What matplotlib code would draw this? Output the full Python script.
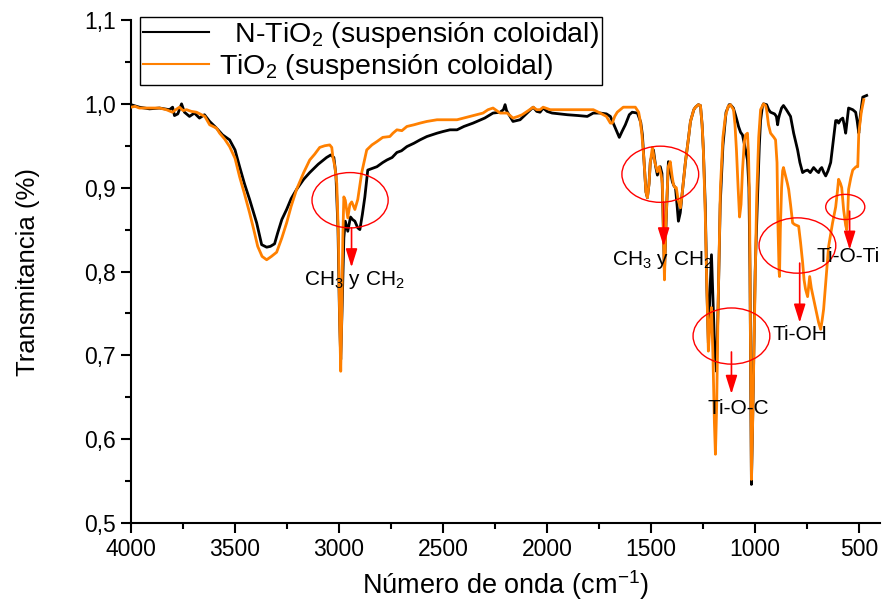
import matplotlib
matplotlib.use("Agg")
import matplotlib.pyplot as plt
from matplotlib.patches import Ellipse

plt.rcParams['font.family'] = ['Liberation Sans', 'DejaVu Sans']
plt.rcParams['mathtext.fontset'] = 'custom'
plt.rcParams['mathtext.rm'] = 'Liberation Sans'
plt.rcParams['mathtext.it'] = 'Liberation Sans:italic'
plt.rcParams['mathtext.bf'] = 'Liberation Sans:bold'

# ---------------- data ----------------
ntio2_wn = [4000, 3960, 3911, 3863, 3815, 3800, 3791, 3775, 3757, 3743, 3719, 3695, 3671, 3647, 3622,
            3589, 3560, 3526, 3500, 3478, 3455, 3430, 3396, 3372, 3348, 3330, 3310, 3295, 3275, 3252,
            3230, 3204, 3170, 3141, 3100, 3060, 3040, 3025, 3015, 3005, 2998, 2992, 2985, 2977, 2970,
            2958, 2945, 2935, 2924, 2910, 2900, 2888, 2876, 2862, 2818, 2790, 2770, 2745, 2722, 2700,
            2674, 2640, 2611, 2578, 2529, 2500, 2467, 2433, 2400, 2356, 2300, 2260, 2226, 2210, 2202,
            2195, 2188, 2164, 2130, 2096, 2067, 2050, 2034, 2019, 2000, 1976, 1903, 1850, 1807, 1778,
            1745, 1715, 1696, 1672, 1653, 1640, 1624, 1605, 1591, 1566, 1550, 1542, 1535, 1525, 1518,
            1510, 1504, 1489, 1478, 1470, 1456, 1448, 1442, 1436, 1428, 1417, 1398, 1390, 1383, 1375,
            1369, 1360, 1350, 1335, 1320, 1311, 1295, 1287, 1273, 1263, 1255, 1249, 1240, 1232, 1225,
            1218, 1210, 1203, 1195, 1186, 1178, 1168, 1155, 1140, 1125, 1119, 1105, 1095, 1085, 1080,
            1070, 1061, 1046, 1037, 1030, 1025, 1018, 1010, 1000, 989, 980, 974, 965, 960, 945,
            935, 926, 907, 898, 892, 888, 883, 873, 864, 850, 830, 815, 796, 785, 772,
            760, 748, 735, 719, 705, 695, 688, 680, 670, 661, 650, 637, 625, 613, 605,
            599, 590, 579, 572, 565, 558, 551, 531, 517, 510, 502, 495, 483, 464]
ntio2_t = [0.999, 0.996, 0.994, 0.995, 0.993, 0.996, 0.986, 0.988, 1.000, 0.990, 0.985, 0.989, 0.983, 0.987, 0.979,
           0.971, 0.963, 0.957, 0.945, 0.925, 0.905, 0.886, 0.858, 0.832, 0.829, 0.830, 0.833, 0.846, 0.862, 0.874,
           0.887, 0.898, 0.910, 0.918, 0.928, 0.936, 0.939, 0.936, 0.915, 0.850, 0.750, 0.695, 0.760, 0.840, 0.860,
           0.848, 0.865, 0.862, 0.860, 0.852, 0.850, 0.868, 0.889, 0.921, 0.925, 0.930, 0.933, 0.936, 0.942, 0.944,
           0.949, 0.953, 0.957, 0.961, 0.965, 0.967, 0.969, 0.969, 0.973, 0.977, 0.983, 0.989, 0.990, 0.993, 0.999,
           0.992, 0.989, 0.979, 0.981, 0.989, 0.996, 0.991, 0.990, 0.995, 0.991, 0.989, 0.987, 0.986, 0.985, 0.989,
           0.989, 0.988, 0.985, 0.971, 0.960, 0.967, 0.975, 0.987, 0.990, 0.989, 0.978, 0.963, 0.935, 0.895, 0.888,
           0.905, 0.931, 0.945, 0.925, 0.915, 0.925, 0.917, 0.860, 0.800, 0.860, 0.931, 0.907, 0.902, 0.900, 0.878,
           0.860, 0.870, 0.895, 0.931, 0.960, 0.979, 0.993, 0.996, 0.999, 0.998, 0.975, 0.945, 0.880, 0.780, 0.715,
           0.770, 0.820, 0.770, 0.710, 0.681, 0.760, 0.880, 0.950, 0.990, 0.999, 0.999, 0.995, 0.987, 0.978, 0.973,
           0.966, 0.963, 0.945, 0.933, 0.900, 0.800, 0.546, 0.650, 0.800, 0.886, 0.950, 0.980, 0.997, 1.000, 0.999,
           0.993, 0.990, 0.988, 0.985, 0.975, 0.982, 0.987, 0.995, 0.998, 0.993, 0.985, 0.965, 0.945, 0.930, 0.918,
           0.920, 0.921, 0.918, 0.924, 0.920, 0.918, 0.922, 0.924, 0.918, 0.914, 0.920, 0.930, 0.955, 0.980, 0.980,
           0.977, 0.981, 0.983, 0.975, 0.965, 0.980, 0.995, 0.993, 0.990, 0.980, 0.965, 0.985, 1.008, 1.010]

tio2_wn = [4000, 3980, 3960, 3911, 3863, 3830, 3801, 3785, 3767, 3750, 3733, 3710, 3685, 3661, 3645,
           3622, 3589, 3574, 3550, 3526, 3500, 3478, 3455, 3430, 3410, 3391, 3370, 3348, 3325, 3300,
           3275, 3252, 3230, 3204, 3170, 3141, 3117, 3093, 3069, 3045, 3035, 3030, 3020, 3011, 3003,
           2997, 2992, 2987, 2982, 2977, 2970, 2958, 2948, 2939, 2924, 2910, 2891, 2867, 2842, 2818,
           2790, 2756, 2741, 2722, 2698, 2674, 2640, 2611, 2578, 2529, 2433, 2371, 2308, 2284, 2260,
           2226, 2192, 2164, 2140, 2120, 2090, 2067, 2050, 2034, 2019, 1985, 1903, 1850, 1778, 1745,
           1715, 1696, 1687, 1675, 1663, 1634, 1600, 1576, 1560, 1552, 1545, 1535, 1525, 1518, 1510,
           1504, 1494, 1482, 1470, 1461, 1452, 1446, 1441, 1436, 1430, 1418, 1408, 1400, 1393, 1385,
           1379, 1370, 1359, 1350, 1335, 1320, 1311, 1295, 1287, 1273, 1263, 1255, 1249, 1240, 1234,
           1225, 1218, 1210, 1203, 1196, 1191, 1185, 1178, 1167, 1155, 1143, 1130, 1119, 1104, 1097,
           1090, 1082, 1075, 1068, 1061, 1052, 1046, 1037, 1032, 1027, 1022, 1018, 1012, 1000, 993,
           983, 974, 960, 950, 945, 936, 926, 910, 902, 895, 890, 885, 883, 879, 873,
           868, 864, 855, 845, 839, 830, 820, 810, 800, 791, 782, 772, 765, 758, 748,
           742, 738, 730, 719, 705, 695, 685, 678, 671, 660, 647, 628, 613, 605, 599,
           590, 584, 575, 565, 560, 555, 551, 540, 531, 515, 507, 502, 490, 478]
tio2_t = [0.996, 0.997, 0.995, 0.995, 0.995, 0.993, 0.990, 0.993, 0.996, 0.992, 0.993, 0.991, 0.990, 0.987, 0.985,
          0.975, 0.971, 0.965, 0.958, 0.949, 0.935, 0.913, 0.893, 0.870, 0.850, 0.830, 0.818, 0.814, 0.818, 0.823,
          0.840, 0.858, 0.878, 0.898, 0.918, 0.933, 0.940, 0.948, 0.950, 0.951, 0.948, 0.937, 0.925, 0.905, 0.840,
          0.740, 0.681, 0.750, 0.840, 0.889, 0.885, 0.864, 0.880, 0.883, 0.874, 0.886, 0.918, 0.945, 0.951, 0.955,
          0.960, 0.961, 0.965, 0.969, 0.968, 0.973, 0.975, 0.977, 0.979, 0.981, 0.981, 0.985, 0.989, 0.993, 0.995,
          0.989, 0.989, 0.983, 0.985, 0.987, 0.992, 0.996, 0.993, 0.993, 0.996, 0.993, 0.993, 0.993, 0.993, 0.989,
          0.985, 0.977, 0.977, 0.985, 0.990, 0.996, 0.996, 0.996, 0.990, 0.979, 0.965, 0.935, 0.895, 0.888, 0.905,
          0.930, 0.948, 0.930, 0.919, 0.925, 0.915, 0.905, 0.850, 0.790, 0.850, 0.925, 0.931, 0.915, 0.904, 0.900,
          0.900, 0.885, 0.876, 0.895, 0.931, 0.960, 0.979, 0.993, 0.996, 0.999, 0.998, 0.975, 0.945, 0.870, 0.800,
          0.705, 0.735, 0.757, 0.700, 0.620, 0.582, 0.640, 0.760, 0.900, 0.960, 0.985, 0.997, 0.999, 0.993, 0.975,
          0.945, 0.900, 0.865, 0.880, 0.920, 0.955, 0.963, 0.965, 0.940, 0.886, 0.700, 0.552, 0.620, 0.790, 0.886,
          0.960, 0.993, 1.000, 0.998, 0.993, 0.975, 0.965, 0.960, 0.957, 0.930, 0.850, 0.800, 0.794, 0.850, 0.900,
          0.920, 0.924, 0.915, 0.905, 0.898, 0.880, 0.858, 0.856, 0.855, 0.854, 0.835, 0.811, 0.790, 0.779, 0.770,
          0.785, 0.794, 0.780, 0.767, 0.750, 0.739, 0.731, 0.742, 0.755, 0.790, 0.830, 0.858, 0.877, 0.895, 0.910,
          0.905, 0.900, 0.874, 0.855, 0.850, 0.870, 0.898, 0.912, 0.921, 0.925, 0.925, 0.965, 0.990, 1.005]

series_labels = ['  N-TiO$_\\mathrm{2}$ (suspensión coloidal)', 'TiO$_\\mathrm{2}$ (suspensión coloidal)']
x_ticks = [4000, 3500, 3000, 2500, 2000, 1500, 1000, 500]
y_ticks = [0.5, 0.6, 0.7, 0.8, 0.9, 1.0, 1.1]
y_tick_labels = ['0,5', '0,6', '0,7', '0,8', '0,9', '1,0', '1,1']

# annotations: (ellipse cx, cy, w, h), (arrow x, y0, y1), (text, tx, ty)
ann_ellipses = [(2947, 0.885, 366, 0.066), (1456, 0.916, 369, 0.067), (1114, 0.723, 369, 0.067),
                (797, 0.831, 369, 0.066), (567, 0.877, 188, 0.030)]
ann_arrows = [(2940, 0.852, 0.805), (1440, 0.883, 0.830), (1114, 0.704, 0.654),
              (786, 0.810, 0.739), (546, 0.872, 0.826)]
ann_texts = [('CH$_\\mathrm{3}$ y CH$_\\mathrm{2}$', 2925, 0.790), ('CH$_\\mathrm{3}$ y CH$_\\mathrm{2}$', 1447, 0.814),
             ('Ti-O-C', 1080, 0.636), ('Ti-OH', 786, 0.725), ('Ti-O-Ti', 555, 0.818)]

# ---------------- figure ----------------
fig = plt.figure(figsize=(8.84, 6.07), dpi=100)
ax = fig.add_axes([131 / 884, 84 / 607, 749 / 884, 503 / 607])

ax.plot(ntio2_wn, ntio2_t, color='black', lw=2.0, label=series_labels[0], zorder=3)
ax.plot(tio2_wn, tio2_t, color='#ff8000', lw=2.0, label=series_labels[1], zorder=4)

ax.set_xlim(4000, 400)
ax.set_ylim(0.5, 1.1)
ax.set_xticks(x_ticks)
ax.set_xticklabels([str(v) for v in x_ticks])
ax.set_xticks([3750, 3250, 2750, 2250, 1750, 1250, 750], minor=True)
ax.set_yticks(y_ticks)
ax.set_yticklabels(y_tick_labels)
ax.set_yticks([0.55, 0.65, 0.75, 0.85, 0.95, 1.05], minor=True)

for s in ['top', 'right']:
    ax.spines[s].set_visible(False)
for s in ['left', 'bottom']:
    ax.spines[s].set_linewidth(1.5)
ax.tick_params(axis='both', which='major', direction='out', length=7, width=1.5)
ax.tick_params(axis='both', which='minor', direction='out', length=4, width=1.5)
ax.tick_params(axis='x', which='major', pad=4, labelsize=16.5)
ax.tick_params(axis='y', which='major', pad=4, labelsize=16.5)

ax.set_xlabel('Número de onda (cm$^{\\mathrm{-1}}$)', fontsize=19.5, labelpad=5)
ax.set_ylabel('Transmitancia (%)', fontsize=18.5, labelpad=32)

for (cx, cy, w, h) in ann_ellipses:
    ax.add_patch(Ellipse((cx, cy), w, h, fill=False, edgecolor='red', lw=1.0, zorder=6))
for (xa, y0, y1) in ann_arrows:
    ax.annotate('', xy=(xa, y1), xytext=(xa, y0),
                arrowprops=dict(arrowstyle='-|>,head_length=0.7,head_width=0.22', color='red', lw=1.2,
                                mutation_scale=16, shrinkA=0, shrinkB=0), zorder=7)
for (txt, tx, ty) in ann_texts:
    ax.text(tx, ty, txt, fontsize=15, ha='center', va='center', color='black', zorder=8)

leg = ax.legend(loc='upper left', bbox_to_anchor=(0.012, 1.006), borderaxespad=0, fontsize=20.5,
                frameon=True, fancybox=False, framealpha=1, edgecolor='black', handlelength=2.3,
                handletextpad=0.35, borderpad=0.12, labelspacing=0.05)
leg.get_frame().set_linewidth(1.0)
for line in leg.get_lines():
    line.set_linewidth(1.5)

fig.savefig('out.png', dpi=100)
